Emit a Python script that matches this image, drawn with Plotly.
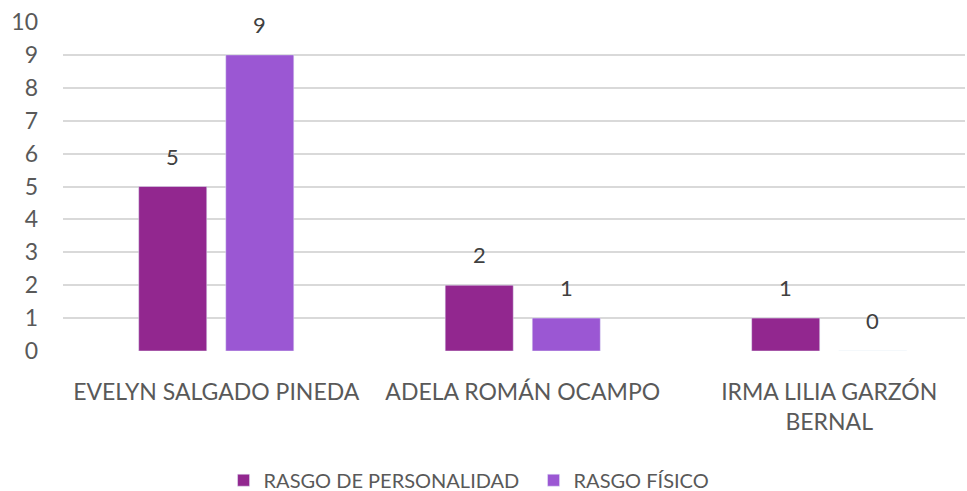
import plotly.graph_objects as go

categories = ["EVELYN SALGADO PINEDA", "ADELA ROMÁN OCAMPO", "IRMA LILIA GARZÓN<br>BERNAL"]
personalidad = [5, 2, 1]
fisico = [9, 1, 0]
series_names = ["RASGO DE PERSONALIDAD", "RASGO FÍSICO"]
series_colors = ["#92278F", "#9B57D3"]
y_ticks = list(range(0, 11))

font_family = "Lato, 'Open Sans', sans-serif"
bar_offset_px = 43.5  # half the distance between paired bar centres

fig = go.Figure()
for name, values, color in zip(series_names, [personalidad, fisico], series_colors):
    fig.add_trace(go.Bar(x=categories, y=values, name=name, marker=dict(color=color)))

# value labels above each bar
for sign, values in zip([-1, 1], [personalidad, fisico]):
    for cat, v in zip(categories, values):
        fig.add_annotation(
            x=cat, y=v, text=str(v), showarrow=False,
            xshift=sign * bar_offset_px, yshift=15, yanchor="bottom",
            font=dict(size=22, color="#404040", family=font_family),
        )

fig.update_layout(
    width=967, height=491,
    margin=dict(l=63, r=2, t=22, b=140, autoexpand=False),
    paper_bgcolor="white", plot_bgcolor="white",
    barmode="group", bargap=0.432, bargroupgap=0.218,
    font=dict(family=font_family, size=22, color="#595959"),
    showlegend=True,
    legend=dict(orientation="h", xref="paper", x=0.178, xanchor="left",
                yref="container", y=0.022, yanchor="middle",
                font=dict(size=20, color="#595959"),
                entrywidth=265, traceorder="normal"),
)
fig.update_xaxes(range=[-0.5, 2.443], showgrid=False, showline=False, ticks="",
                 ticklabelstandoff=25, tickfont=dict(size=23, color="#595959"))
fig.update_yaxes(range=[0, 10], tickvals=y_ticks, showgrid=True, gridcolor="#d9d9d9", gridwidth=1.5,
                 zeroline=False, showline=False, ticks="", ticklabelstandoff=24,
                 tickfont=dict(size=23, color="#595959"))

fig.write_html("out.html")
